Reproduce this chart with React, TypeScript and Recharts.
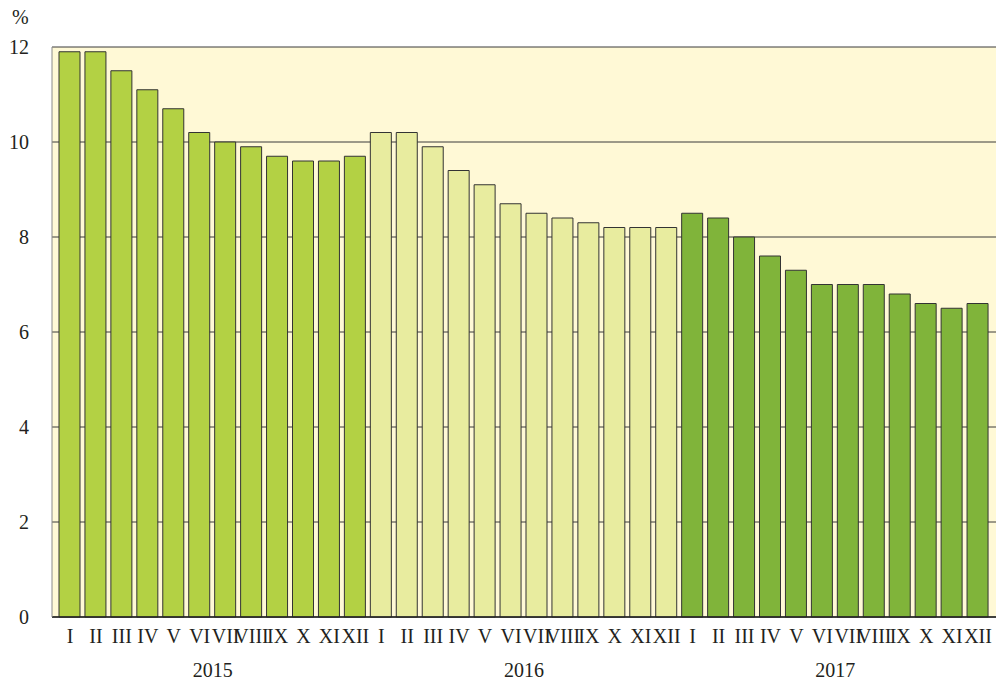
import { BarChart, Bar, Cell, XAxis, YAxis, CartesianGrid } from 'recharts'

const months = ['I', 'II', 'III', 'IV', 'V', 'VI', 'VII', 'VIII', 'IX', 'X', 'XI', 'XII']
const years = ['2015', '2016', '2017']
const values2015 = [11.9, 11.9, 11.5, 11.1, 10.7, 10.2, 10.0, 9.9, 9.7, 9.6, 9.6, 9.7]
const values2016 = [10.2, 10.2, 9.9, 9.4, 9.1, 8.7, 8.5, 8.4, 8.3, 8.2, 8.2, 8.2]
const values2017 = [8.5, 8.4, 8.0, 7.6, 7.3, 7.0, 7.0, 7.0, 6.8, 6.6, 6.5, 6.6]
const yTicks = [0, 2, 4, 6, 8, 10, 12]

const yearColors = ['#b3d144', '#e8ec9f', '#80b43a']
const FONT = '"Liberation Serif", "Times New Roman", serif'

const series = [values2015, values2016, values2017]
const data = years.flatMap((year, yi) =>
  months.map((month, mi) => ({
    id: `${year}-${month}`,
    month,
    year,
    yearIndex: yi,
    value: series[yi][mi]
  }))
)

const YearTick = ({ x, y, index }: any) => {
  if (index % 12 !== 5) return null
  return (
    <text x={x + 13} y={y + 30} textAnchor="middle" fontFamily={FONT} fontSize={20} fill="#231f20">
      {data[index].year}
    </text>
  )
}

const App = () => {
  return (
    <div style={{ position: 'absolute', left: 0, top: 0, width: 997, height: 681 }}>
      <div
        style={{
          position: 'absolute',
          left: 12,
          top: 6,
          fontFamily: FONT,
          fontSize: 20,
          color: '#231f20'
        }}
      >
        %
      </div>
      <BarChart
        width={997}
        height={681}
        data={data}
        margin={{ top: 47, right: 1, left: 0, bottom: 0 }}
        barSize={21}
      >
        <CartesianGrid
          vertical={false}
          fill="#fff9d6"
          stroke="#3a3a3a"
          strokeWidth={1}
        />
        <XAxis
          dataKey="id"
          interval={0}
          tickFormatter={(v: string) => v.split('-')[1]}
          tickSize={0}
          tickMargin={12}
          height={30}
          padding={{ left: 5, right: 5 }}
          axisLine={{ stroke: '#222', strokeWidth: 1.5 }}
          tick={{ fontFamily: FONT, fontSize: 20, fill: '#231f20' }}
        />
        <XAxis
          dataKey="id"
          xAxisId="year"
          interval={0}
          tickSize={0}
          tickMargin={0}
          height={34}
          padding={{ left: 5, right: 5 }}
          axisLine={false}
          tick={<YearTick />}
        />
        <YAxis
          domain={[0, 12]}
          ticks={yTicks}
          width={52}
          tickSize={0}
          tickMargin={23}
          axisLine={{ stroke: '#8a8a8a', strokeWidth: 1 }}
          tick={{ fontFamily: FONT, fontSize: 20, fill: '#231f20' }}
        />
        <YAxis
          yAxisId="right"
          orientation="right"
          domain={[0, 12]}
          width={0}
          tick={false}
          tickLine={false}
          axisLine={{ stroke: '#8a8a8a', strokeWidth: 1 }}
        />
        <Bar dataKey="value" stroke="#333" strokeWidth={1} isAnimationActive={false}>
          {data.map((entry, index) => (
            <Cell key={`cell-${index}`} fill={yearColors[entry.yearIndex]} />
          ))}
        </Bar>
      </BarChart>
    </div>
  )
}

export default App
